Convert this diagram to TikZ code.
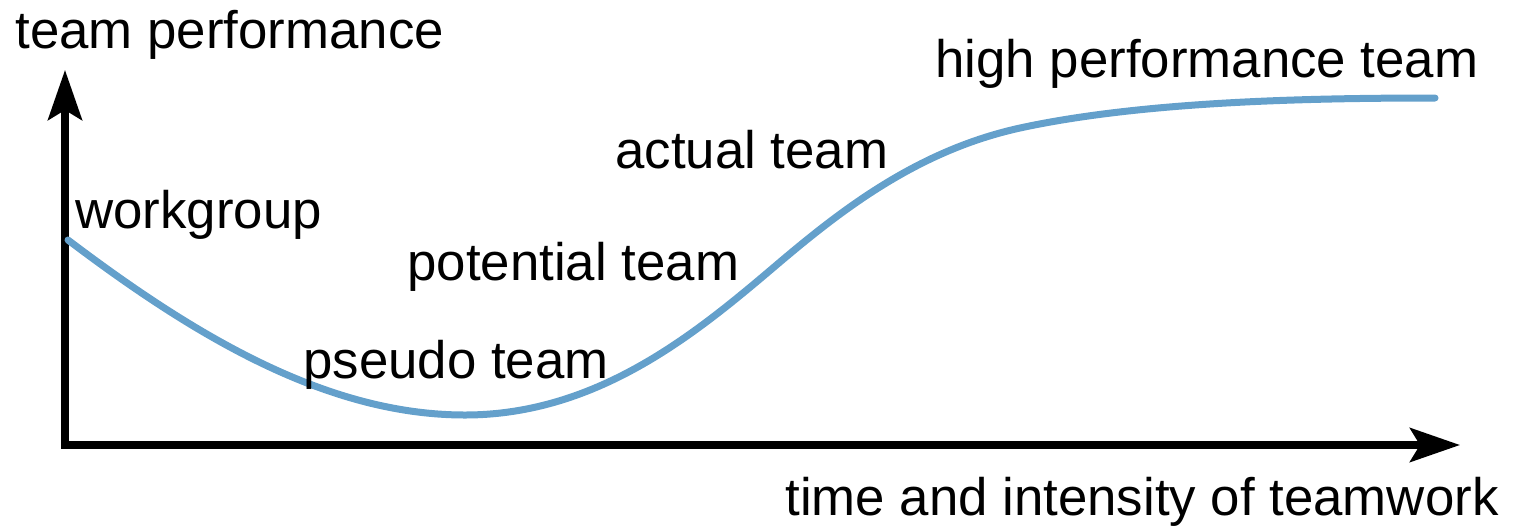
\documentclass[tikz,border=0pt]{standalone}
\usepackage{fontspec}
\setmainfont{Liberation Sans}
\usetikzlibrary{arrows.meta}
\begin{document}
\begin{tikzpicture}[x=0.5pt,y=-0.5pt,
  lbl/.style={anchor=base west,inner sep=0pt,font=\fontsize{26.4pt}{30pt}\selectfont},
  axis/.style={line width=3.6pt,-{Triangle[length=25pt,width=17pt,inset=5pt]}},
  curve/.style={line width=3.5pt,color={rgb,255:red,100;green,160;blue,203},line cap=round}]
\useasboundingbox (0,0) rectangle (1520,525);
\coordinate (o) at (65,445);
\coordinate (ytip) at (65,70);
\coordinate (xtip) at (1460,445);
\draw[axis] ([yshift=-0.9pt]o) -- (ytip);
\draw[axis] ([xshift=-1.8pt]o) -- (xtip);
\coordinate (c0) at (68,240);
\coordinate (c1) at (465,415);
\coordinate (c2) at (780,262);
\coordinate (c3) at (1020,128);
\coordinate (c4) at (1435,98);
\draw[curve] (c0) .. controls (200,340) and (330,415) .. (c1)
  .. controls (600,415) and (700,330) .. (c2)
  .. controls (845,207) and (920,150) .. (c3)
  .. controls (1140,102) and (1300,98) .. (c4);
\node[lbl] (yl) at (15,48) {team performance};
\node[lbl] (xl) at (785,515) {time and intensity of teamwork};
\node[lbl] (wg) at (75,228) {workgroup};
\node[lbl] (ps) at (303,378) {pseudo team};
\node[lbl] (pt) at (407,280) {potential team};
\node[lbl] (at) at (615,168) {actual team};
\node[lbl] (hp) at (935,77) {high performance team};
\end{tikzpicture}
\end{document}
